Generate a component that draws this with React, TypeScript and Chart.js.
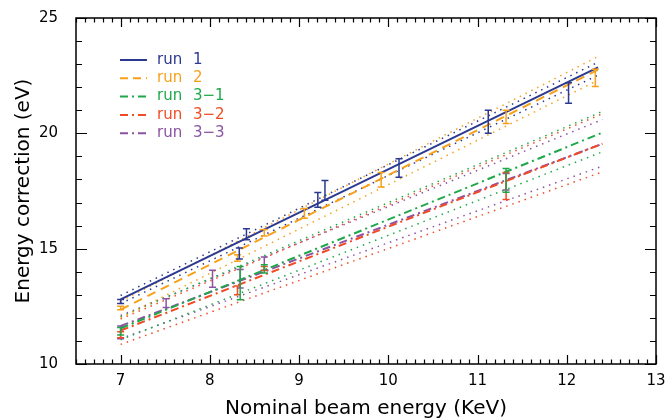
import React, { useEffect, useRef } from "react";
import { Chart, registerables } from "chart.js";

Chart.register(...registerables);

// ---- axis ticks ----
const xTicks = [7, 8, 9, 10, 11, 12, 13];
const yTicks = [10, 15, 20, 25];

// ---- legend ----
const runNames = ["run 1", "run 2", "run 3\u22121", "run 3\u22122", "run 3\u22123"];
const runColors = ["#2b3990", "#f7a11a", "#1fa84a", "#f04b24", "#8c52a3"];

// ---- fit lines and confidence bands (x endpoints / y values) ----
const run1X = [7, 12.35];
const run1Fit = [12.8, 22.86];
const run1Upper = [12.97, 23.08];
const run1Lower = [12.62, 22.52];

const run2X = [7, 12.35];
const run2Fit = [12.36, 22.76];
const run2Upper = [12.72, 23.33];
const run2Lower = [12.0, 22.3];

const run31X = [7, 12.4];
const run31Fit = [11.55, 20.03];
const run31Upper = [12.05, 20.95];
const run31Lower = [11.05, 19.2];

const run32X = [7, 12.4];
const run32Fit = [11.45, 19.55];
const run32Upper = [11.95, 20.85];
const run32Lower = [10.85, 18.33];

const run33X = [7, 12.4];
const run33Fit = [11.65, 19.55];
const run33Upper = [12.1, 20.6];
const run33Lower = [11.1, 18.58];

// ---- measured points with error bars ----
const run1ErrX = [7.0, 8.33, 8.41, 9.21, 9.29, 10.12, 11.12, 12.02];
const run1ErrLo = [12.62, 14.55, 15.39, 16.8, 17.1, 18.1, 20.0, 21.3];
const run1ErrHi = [12.8, 15.03, 15.86, 17.43, 17.96, 18.9, 21.0, 22.19];

const run2ErrX = [7.0, 8.31, 8.61, 9.06, 9.92, 11.32, 12.32];
const run2ErrLo = [12.35, 14.45, 15.55, 16.32, 17.67, 20.43, 22.03];
const run2ErrHi = [12.5, 14.74, 15.83, 16.74, 18.3, 21.0, 22.78];

const run31ErrX = [7.0, 8.34, 8.61, 11.32];
const run31ErrLo = [11.26, 12.78, 13.95, 17.45];
const run31ErrHi = [11.58, 14.23, 14.3, 18.48];

const run32ErrX = [7.0, 8.31, 8.61, 11.32];
const run32ErrLo = [11.14, 13.0, 14.05, 17.13];
const run32ErrHi = [11.4, 13.38, 14.23, 18.3];

const run33ErrX = [7.0, 7.51, 8.03, 8.34, 8.61, 11.32];
const run33ErrLo = [11.09, 12.45, 13.33, 13.3, 14.06, 17.54];
const run33ErrHi = [11.65, 12.83, 14.06, 14.1, 14.64, 18.26];

const FONT = "'DejaVu Sans', sans-serif";

const pts = (xs: number[], ys: number[]) => xs.map((x, i) => ({ x, y: ys[i] }));

const fitDash = [[], [9, 6], [8, 4, 2, 4], [8, 4, 2, 4], [8, 4, 2, 4]];

const runs = [
  { x: run1X, fit: run1Fit, up: run1Upper, lo: run1Lower, ex: run1ErrX, el: run1ErrLo, eh: run1ErrHi },
  { x: run2X, fit: run2Fit, up: run2Upper, lo: run2Lower, ex: run2ErrX, el: run2ErrLo, eh: run2ErrHi },
  { x: run31X, fit: run31Fit, up: run31Upper, lo: run31Lower, ex: run31ErrX, el: run31ErrLo, eh: run31ErrHi },
  { x: run32X, fit: run32Fit, up: run32Upper, lo: run32Lower, ex: run32ErrX, el: run32ErrLo, eh: run32ErrHi },
  { x: run33X, fit: run33Fit, up: run33Upper, lo: run33Lower, ex: run33ErrX, el: run33ErrLo, eh: run33ErrHi },
];

const decorPlugin = {
  id: "decor",
  afterDatasetsDraw(chart: any) {
    const { ctx, scales } = chart;
    const xs = scales.x;
    const ys = scales.y;

    // error bars
    ctx.save();
    ctx.lineWidth = 1.5;
    ctx.setLineDash([]);
    [4, 3, 2, 1, 0].forEach((r) => {
      const run = runs[r];
      ctx.strokeStyle = runColors[r];
      run.ex.forEach((xv, i) => {
        const px = xs.getPixelForValue(xv);
        const p1 = ys.getPixelForValue(run.el[i]);
        const p2 = ys.getPixelForValue(run.eh[i]);
        ctx.beginPath();
        ctx.moveTo(px, p1);
        ctx.lineTo(px, p2);
        ctx.moveTo(px - 3.5, p1);
        ctx.lineTo(px + 3.5, p1);
        ctx.moveTo(px - 3.5, p2);
        ctx.lineTo(px + 3.5, p2);
        ctx.stroke();
      });
    });
    ctx.restore();
  },
  afterDraw(chart: any) {
    const { ctx, chartArea, scales } = chart;
    const { left, right, top, bottom } = chartArea;
    const xs = scales.x;
    const ys = scales.y;
    ctx.save();
    ctx.strokeStyle = "#000";
    ctx.lineWidth = 1.5;
    ctx.setLineDash([]);
    ctx.strokeRect(left, top, right - left, bottom - top);
    ctx.lineWidth = 1.2;
    ctx.beginPath();
    for (let v = 65; v <= 130; v++) {
      const px = Math.round(xs.getPixelForValue(v / 10)) + 0.5;
      const len = v % 10 === 0 ? 9 : 4.5;
      ctx.moveTo(px, bottom);
      ctx.lineTo(px, bottom - len);
      ctx.moveTo(px, top);
      ctx.lineTo(px, top + len);
    }
    for (let v = 10; v <= 25; v++) {
      const py = Math.round(ys.getPixelForValue(v)) + 0.5;
      const len = v % 5 === 0 ? 11 : 6;
      ctx.moveTo(left, py);
      ctx.lineTo(left + len, py);
      ctx.moveTo(right, py);
      ctx.lineTo(right - len, py);
    }
    ctx.stroke();

    // legend
    const lx0 = 120;
    const lx1 = 147;
    const tx = 157;
    const y0 = 60;
    const step = 18.3;
    ctx.font = `15px ${FONT}`;
    ctx.textBaseline = "middle";
    ctx.textAlign = "left";
    (ctx as any).wordSpacing = "6px";
    runNames.forEach((name, i) => {
      const yy = y0 + i * step;
      ctx.strokeStyle = runColors[i];
      ctx.lineWidth = 2;
      ctx.setLineDash(i === 0 ? [] : i === 1 ? [8, 5] : [8, 4, 2, 4]);
      ctx.beginPath();
      ctx.moveTo(lx0, yy);
      ctx.lineTo(lx1, yy);
      ctx.stroke();
      ctx.fillStyle = runColors[i];
      ctx.fillText(name, tx, yy);
    });
    ctx.restore();
  },
};

export default function App() {
  const ref = useRef<HTMLCanvasElement | null>(null);

  useEffect(() => {
    if (!ref.current) return;
    const datasets: any[] = [];
    // fits first (drawn on top)
    runs.forEach((run, r) => {
      datasets.push({
        label: runNames[r],
        data: pts(run.x, run.fit),
        showLine: true,
        borderColor: runColors[r],
        borderWidth: 2,
        borderDash: fitDash[r],
        pointRadius: 0,
        fill: false,
      });
    });
    runs.forEach((run, r) => {
      [run.up, run.lo].forEach((band) => {
        datasets.push({
          label: runNames[r] + " band",
          data: pts(run.x, band),
          showLine: true,
          borderColor: runColors[r],
          borderWidth: 1.5,
          borderDash: [1.5, 5],
          pointRadius: 0,
          fill: false,
        });
      });
    });

    const chart = new Chart(ref.current, {
      type: "scatter",
      data: { datasets },
      options: {
        animation: false,
        responsive: false,
        devicePixelRatio: 1,
        layout: { padding: { top: 18, right: 11, left: 0, bottom: 0 } },
        plugins: { legend: { display: false }, tooltip: { enabled: false } },
        scales: {
          x: {
            type: "linear",
            min: 6.5,
            max: 13,
            grid: { display: false, drawTicks: false },
            border: { display: false },
            afterBuildTicks: (s: any) => {
              s.ticks = xTicks.map((v) => ({ value: v }));
            },
            afterFit: (s: any) => {
              s.height = 55;
              s.paddingLeft = 0;
              s.paddingRight = 0;
            },
            ticks: {
              color: "#000",
              font: { family: FONT, size: 15 },
              padding: 8,
              autoSkip: false,
              maxRotation: 0,
            },
            title: {
              display: true,
              text: "Nominal beam energy (KeV)",
              color: "#000",
              font: { family: FONT, size: 20 },
              padding: { top: 0, bottom: -2 },
            },
          },
          y: {
            type: "linear",
            min: 10,
            max: 25,
            grid: { display: false, drawTicks: false },
            border: { display: false },
            afterBuildTicks: (s: any) => {
              s.ticks = yTicks.map((v) => ({ value: v }));
            },
            afterFit: (s: any) => {
              s.width = 76;
              s.paddingTop = 0;
              s.paddingBottom = 0;
            },
            ticks: {
              color: "#000",
              font: { family: FONT, size: 15 },
              padding: 18,
            },
            title: {
              display: true,
              text: "Energy correction (eV)",
              color: "#000",
              font: { family: FONT, size: 20 },
              padding: { top: 12, bottom: 0 },
            },
          },
        },
      },
      plugins: [decorPlugin],
    } as any);
    return () => chart.destroy();
  }, []);

  return (
    <div style={{ position: "fixed", left: 0, top: 0, width: 667, height: 419, background: "#fff" }}>
      <canvas ref={ref} width={667} height={419} />
    </div>
  );
}
